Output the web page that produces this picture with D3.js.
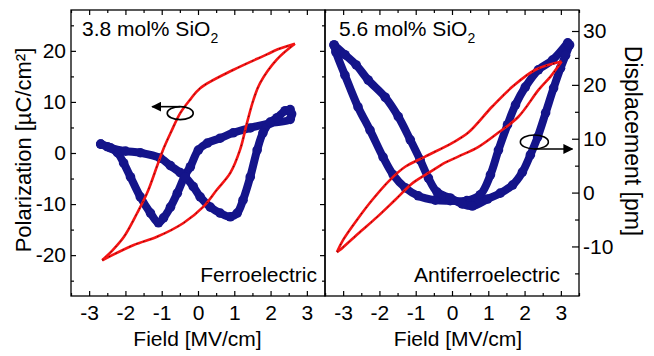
<!DOCTYPE html>
<html>
<head>
<meta charset="utf-8">
<script src="https://cdn.jsdelivr.net/npm/d3@7/dist/d3.min.js"></script>
<style>
  body { margin: 0; background: #fff; }
  svg text { font-family: "Liberation Sans", Arial, sans-serif; fill: #000; }
</style>
</head>
<body>
<svg id="chart" width="654" height="356"></svg>
<script>
// tick values
const fieldTicks = [-3, -2, -1, 0, 1, 2, 3];
const fieldMinor = [-3.5, -2.5, -1.5, -0.5, 0.5, 1.5, 2.5, 3.5];
const polTicks = [-20, -10, 0, 10, 20];
const polMinor = [-25, -15, -5, 5, 15, 25];
const dispTicks = [-10, 0, 10, 20, 30];
const dispMinor = [-15, -5, 5, 15, 25];

// 3.8 mol% : P-E loop [field, polarization]
const feLoopDown = [[2.67, 21.4], [2.2, 20.3], [1.9, 19.3], [0.98, 16.3], [0.06, 12.7], [-0.21, 10.5],
  [-0.49, 7.8], [-0.75, 4.0], [-0.97, 0.5], [-1.13, -2.6], [-1.40, -7.8], [-1.68, -11.8],
  [-2.04, -16.4], [-2.35, -19.0], [-2.64, -21.0]];
const feLoopUp = [[-2.64, -21.0], [-1.77, -18.0], [-1.13, -16.4], [-0.40, -13.7], [0.15, -10.5],
  [0.52, -7.2], [0.89, -3.9], [1.16, 0.65], [1.35, 5.9], [1.53, 10.45], [1.71, 13.7],
  [2.17, 18.3], [2.67, 21.4]];

// 3.8 mol% : displacement [field, pm]
const feStrainDown = [[2.58, 14.6], [2.54, 13.6], [1.99, 12.9], [1.44, 12.0], [0.97, 11.1], [0.61, 10.1], [0.26, 9.2],
  [0.01, 7.9], [-0.21, 4.8], [-0.35, 3.3], [-0.57, -0.1], [-0.76, -2.7], [-0.95, -4.7],
  [-1.09, -5.6], [-1.31, -3.8], [-1.59, -0.8], [-1.86, 2.9], [-2.05, 5.5], [-2.22, 7.4],
  [-2.49, 8.5], [-2.68, 9.0]];
const feStrainUp = [[-2.68, 9.0], [-2.41, 8.3], [-2.0, 7.7], [-1.59, 7.4], [-1.04, 6.4], [-0.76, 5.0],
  [-0.49, 3.7], [-0.35, 2.9], [-0.13, 1.1], [0.06, -0.8], [0.34, -2.7], [0.61, -3.8],
  [0.89, -4.5], [1.08, -3.8], [1.24, -1.4], [1.44, 2.9], [1.63, 7.9], [1.79, 11.1],
  [1.99, 13.1], [2.18, 13.9], [2.40, 15.2], [2.54, 15.4]];

// 5.6 mol% : P-E loop
const afeLoopDown = [[3.02, 17.9], [2.30, 16.3], [1.67, 13.0], [1.11, 9.1], [0.45, 4.0], [0.01, 2.0],
  [-0.74, -0.7], [-1.29, -2.7], [-1.70, -5.2], [-2.20, -9.2], [-2.62, -13.1], [-3.00, -17.0],
  [-3.17, -19.4]];
const afeLoopUp = [[-3.17, -19.4], [-3.09, -19.0], [-2.59, -15.8], [-2.06, -12.5], [-1.57, -9.2],
  [-1.07, -5.8], [-0.60, -3.7], [-0.19, -1.9], [0.17, -0.7], [0.73, 1.2], [1.28, 4.0],
  [1.83, 7.1], [2.39, 12.4], [2.72, 15.0], [3.02, 17.9]];

// 5.6 mol% : displacement
const afeStrainDown = [[3.19, 27.8], [2.77, 24.6], [2.38, 22.8], [2.02, 19.6], [1.75, 16.3], [1.53, 12.6],
  [1.28, 7.9], [1.06, 3.3], [0.78, -0.4], [0.41, -1.5], [-0.05, -1.5], [-0.46, -1.4],
  [-0.93, -0.6], [-1.29, 0.9], [-1.62, 3.3], [-1.90, 6.6], [-2.26, 11.6], [-2.59, 15.9],
  [-2.95, 21.8], [-3.20, 26.1], [-3.25, 27.4]];
const afeStrainUp = [[-3.25, 27.4], [-2.95, 25.6], [-2.64, 23.7], [-2.31, 20.9], [-1.84, 17.7],
  [-1.48, 14.1], [-1.15, 9.8], [-0.88, 6.1], [-0.65, 2.7], [-0.41, 0.1], [-0.05, -1.0],
  [0.28, -2.1], [0.56, -2.5], [0.98, -1.2], [1.33, -0.1], [1.67, 1.4], [1.94, 3.8],
  [2.16, 7.0], [2.36, 10.3], [2.58, 14.8], [2.80, 19.4], [2.99, 23.1], [3.13, 25.5], [3.24, 27.4]];

const svg = d3.select("#chart");
const yTop = 10, yBottom = 296;
const panels = [
  { x0: 71, x1: 325, label: "3.8 mol% SiO", phase: "Ferroelectric",
    loop: [feLoopDown, feLoopUp], strain: [feStrainDown, feStrainUp] },
  { x0: 325, x1: 579, label: "5.6 mol% SiO", phase: "Antiferroelectric",
    loop: [afeLoopDown, afeLoopUp], strain: [afeStrainDown, afeStrainUp] }
];

const yP = d3.scaleLinear().domain([-28, 28]).range([yBottom, yTop]);
const yD = d3.scaleLinear().domain([-19.2, 33.9]).range([yBottom, yTop]);
const red = "#f51414", blue = "#14148a";
const fmt = d => String(d);

panels.forEach((p, i) => {
  const x = d3.scaleLinear().domain([-3.5, 3.5]).range([p.x0, p.x1]);
  p.x = x;
  const g = svg.append("g");

  // bottom + top axes
  const xb = g.append("g").attr("transform", `translate(0,${yBottom})`)
    .call(d3.axisBottom(x).tickValues(fieldTicks).tickSize(-5).tickPadding(9).tickFormat(fmt));
  xb.selectAll("text").style("font-size", "21px");
  g.append("g").attr("transform", `translate(0,${yBottom})`)
    .call(d3.axisBottom(x).tickValues(fieldMinor).tickSize(-3).tickFormat(""));
  g.append("g").attr("transform", `translate(0,${yTop})`)
    .call(d3.axisTop(x).tickValues(fieldTicks).tickSize(-5).tickFormat(""));
  g.append("g").attr("transform", `translate(0,${yTop})`)
    .call(d3.axisTop(x).tickValues(fieldMinor).tickSize(-3).tickFormat(""));

  if (i === 0) {
    const yl = g.append("g").attr("transform", `translate(${p.x0},0)`)
      .call(d3.axisLeft(yP).tickValues(polTicks).tickSize(-5).tickPadding(5).tickFormat(fmt));
    yl.selectAll("text").style("font-size", "21px");
    g.append("g").attr("transform", `translate(${p.x0},0)`)
      .call(d3.axisLeft(yP).tickValues(polMinor).tickSize(-3).tickFormat(""));
    g.append("g").attr("transform", `translate(${p.x1},0)`)
      .call(d3.axisRight(yP).tickValues(polTicks).tickSize(-5).tickFormat(""));
    g.append("g").attr("transform", `translate(${p.x1},0)`)
      .call(d3.axisRight(yP).tickValues(polMinor).tickSize(-3).tickFormat(""));
  } else {
    const yr = g.append("g").attr("transform", `translate(${p.x1},0)`)
      .call(d3.axisRight(yD).tickValues(dispTicks).tickSize(-7).tickPadding(4).tickFormat(fmt));
    yr.selectAll("text").style("font-size", "21px");
    g.append("g").attr("transform", `translate(${p.x1},0)`)
      .call(d3.axisRight(yD).tickValues(dispMinor).tickSize(-4).tickFormat(""));
  }
  g.selectAll(".domain").remove();
  g.selectAll(".tick line").attr("stroke", "#000").attr("stroke-width", 1.2);

  // strain (blue dots)
  const sLine = d3.line().x(d => x(d[0])).y(d => yD(d[1])).curve(d3.curveCatmullRom);
  p.strain.forEach(s => {
    g.append("path").datum(s).attr("d", sLine)
      .attr("fill", "none").attr("stroke", blue).attr("stroke-width", 8)
      .attr("stroke-linejoin", "round").attr("stroke-linecap", "round");
    g.selectAll(null).data(s).enter().append("circle")
      .attr("cx", d => x(d[0])).attr("cy", d => yD(d[1])).attr("r", 4.8).attr("fill", blue);
  });

  // polarization (red line)
  const pLine = d3.line().x(d => x(d[0])).y(d => yP(d[1])).curve(d3.curveCatmullRom);
  p.loop.forEach(l => {
    g.append("path").datum(l).attr("d", pLine)
      .attr("fill", "none").attr("stroke", red).attr("stroke-width", 2.6);
    g.append("path").datum(l).attr("d", pLine)
      .attr("fill", "none").attr("stroke", "#000").attr("stroke-width", 0.6)
      .attr("stroke-dasharray", "1.5,6");
  });

  // frame
  g.append("rect").attr("x", p.x0).attr("y", yTop)
    .attr("width", p.x1 - p.x0).attr("height", yBottom - yTop)
    .attr("fill", "none").attr("stroke", "#000").attr("stroke-width", 1.3);

  // texts
  const t = g.append("text").attr("x", p.x0 + (i === 0 ? 11 : 14)).attr("y", 36)
    .style("font-size", "21px").text(p.label);
  t.append("tspan").attr("dy", 7).style("font-size", "14px").text("2");
  g.append("text").attr("x", p.x1 - (i === 0 ? 8 : 19)).attr("y", 282)
    .attr("text-anchor", "end").style("font-size", "21px").text(p.phase);
  g.append("text").attr("x", i === 0 ? 197.5 : 458).attr("y", 346)
    .attr("text-anchor", "middle").style("font-size", "21px").text("Field [MV/cm]");
});

// axis titles
svg.append("text").attr("transform", "translate(31,150) rotate(-90)")
  .attr("text-anchor", "middle").style("font-size", "22px").text("Polarization [µC/cm²]");
svg.append("text").attr("transform", "translate(625,141) rotate(90)")
  .attr("text-anchor", "middle").style("font-size", "23px").text("Displacement [pm]");

// arrows marking which axis belongs to which curve
svg.append("defs").append("marker").attr("id", "head")
  .attr("viewBox", "0 0 10 10").attr("refX", 9).attr("refY", 5)
  .attr("markerWidth", 10).attr("markerHeight", 10).attr("markerUnits", "userSpaceOnUse")
  .attr("orient", "auto")
  .append("path").attr("d", "M0,0L10,5L0,10z").attr("fill", "#000");

const xa = panels[0].x, xb2 = panels[1].x;
const e1 = [xa(-0.49), yP(7.8)];
svg.append("ellipse").attr("cx", e1[0]).attr("cy", e1[1]).attr("rx", 13).attr("ry", 6.5)
  .attr("fill", "none").attr("stroke", "#000").attr("stroke-width", 1.6);
svg.append("line").attr("x1", e1[0]).attr("y1", e1[1] - 6.5).attr("x2", e1[0] - 28).attr("y2", e1[1] - 6.5)
  .attr("stroke", "#000").attr("stroke-width", 1.6).attr("marker-end", "url(#head)");
const e2 = [xb2(2.27), yD(9.4)];
svg.append("ellipse").attr("cx", e2[0]).attr("cy", e2[1]).attr("rx", 14).attr("ry", 7)
  .attr("fill", "none").attr("stroke", "#000").attr("stroke-width", 1.6);
svg.append("line").attr("x1", e2[0]).attr("y1", e2[1] + 7).attr("x2", e2[0] + 38).attr("y2", e2[1] + 7)
  .attr("stroke", "#000").attr("stroke-width", 1.6).attr("marker-end", "url(#head)");
</script>
</body>
</html>
